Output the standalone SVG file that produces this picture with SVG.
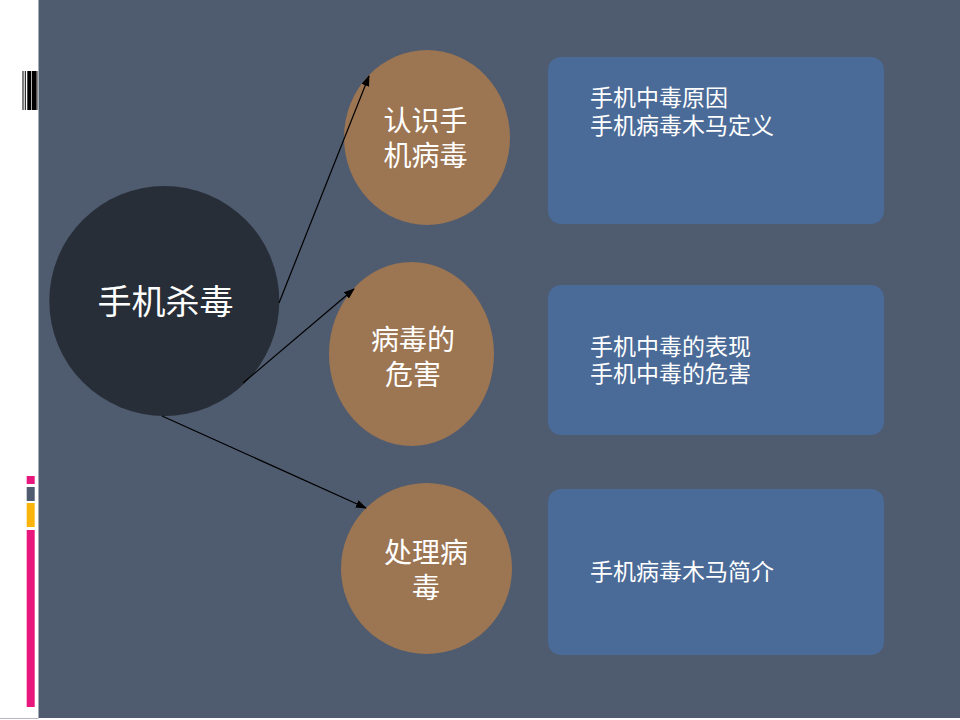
<svg xmlns="http://www.w3.org/2000/svg" width="960" height="720" viewBox="0 0 960 720">
<style>
.lbl{font-family:"Noto Sans CJK SC","Noto Sans CJK JP",sans-serif;fill:#ffffff;text-anchor:middle}
.box{fill:#4a6a97}
.bub{fill:#9c7552}
.btxt{font-family:"Noto Sans CJK SC","Noto Sans CJK JP",sans-serif;fill:#ffffff;font-size:23px}
.conn{stroke:#000000;stroke-width:1.2;fill:none}
</style>
<defs>
<marker id="ah" markerWidth="11" markerHeight="8" refX="10" refY="4" orient="auto" markerUnits="userSpaceOnUse">
<path d="M0,0 L11,4 L0,8 Z" fill="#000000"/>
</marker>
</defs>
<rect x="0" y="0" width="960" height="720" fill="#ffffff"/>
<rect x="38.5" y="0" width="921.5" height="718" fill="#4f5b6f"/>
<rect x="0" y="718" width="38.5" height="1" fill="#b8b8c0"/>
<g id="barcode">
<rect x="22.5" y="71" width="1" height="39" fill="#000"/>
<rect x="24.8" y="71" width="1" height="39" fill="#000"/>
<rect x="27.3" y="71" width="4" height="39" fill="#000"/>
<rect x="32" y="71" width="4.7" height="39" fill="#000"/>
<rect x="36.8" y="71" width="1.2" height="39" fill="#888"/>
</g>
<g id="colorbars">
<rect x="26.7" y="476" width="8" height="8" fill="#e8177d"/>
<rect x="26.7" y="487" width="8" height="14" fill="#4f5b6f"/>
<rect x="26.7" y="503" width="8" height="24" fill="#fbb40c"/>
<rect x="26.7" y="530" width="8" height="177" fill="#e8177d"/>
</g>
<g id="root">
<circle cx="164.3" cy="301" r="115" fill="#272e37"/>
<text class="lbl" x="165.5" y="314" font-size="34">手机杀毒</text>
</g>
<g id="n1">
<ellipse class="bub" cx="427" cy="137.5" rx="83" ry="87.5"/>
<text class="lbl" x="425.5" y="131" font-size="28">认识手</text>
<text class="lbl" x="425.5" y="166" font-size="28">机病毒</text>
</g>
<g id="n2">
<ellipse class="bub" cx="411.5" cy="354" rx="82.5" ry="92"/>
<text class="lbl" x="413" y="350" font-size="28">病毒的</text>
<text class="lbl" x="413" y="385" font-size="28">危害</text>
</g>
<g id="n3">
<ellipse class="bub" cx="426.5" cy="568.5" rx="85.5" ry="85.5"/>
<text class="lbl" x="426" y="563" font-size="28">处理病</text>
<text class="lbl" x="426" y="598" font-size="28">毒</text>
</g>
<g id="b1">
<rect class="box" x="548" y="57" width="336" height="167" rx="13"/>
<text class="btxt" x="590" y="106">手机中毒原因</text>
<text class="btxt" x="590" y="134">手机病毒木马定义</text>
</g>
<g id="b2">
<rect class="box" x="548" y="285" width="336" height="150" rx="13"/>
<text class="btxt" x="590" y="355">手机中毒的表现</text>
<text class="btxt" x="590" y="382">手机中毒的危害</text>
</g>
<g id="b3">
<rect class="box" x="548" y="489" width="336" height="166" rx="13"/>
<text class="btxt" x="590" y="580">手机病毒木马简介</text>
</g>
<g id="connectors">
<line class="conn" x1="279" y1="303" x2="369" y2="76" marker-end="url(#ah)"/>
<line class="conn" x1="243" y1="383" x2="354" y2="289" marker-end="url(#ah)"/>
<line class="conn" x1="162" y1="416" x2="366" y2="508" marker-end="url(#ah)"/>
</g>
</svg>
